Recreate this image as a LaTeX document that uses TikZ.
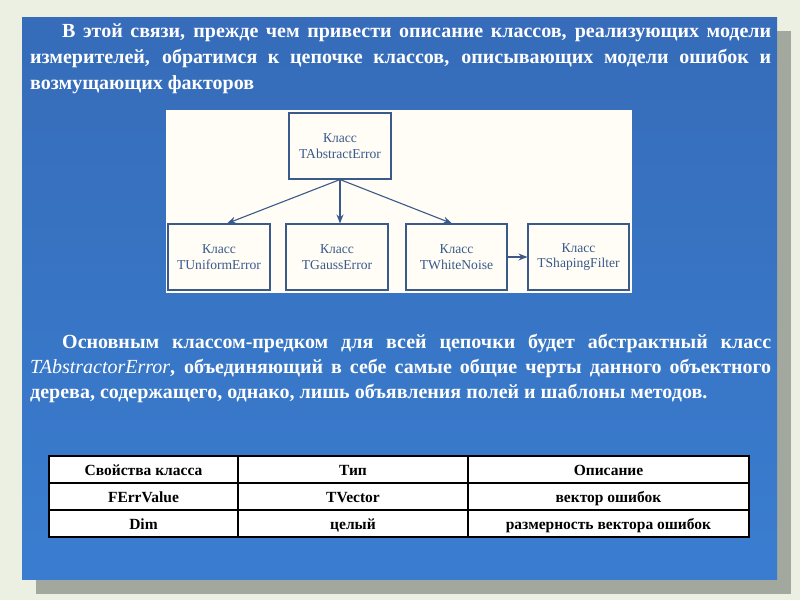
\documentclass[tikz,border=0pt]{standalone}
\usepackage{fontspec}
\setmainfont{Liberation Serif}
\usetikzlibrary{arrows.meta}
\definecolor{bgc}{RGB}{236,240,226}
\definecolor{shd}{RGB}{163,168,158}
\definecolor{btop}{RGB}{54,108,185}
\definecolor{bmid}{RGB}{47,96,160}
\definecolor{bbot}{RGB}{58,125,208}
\definecolor{dcol}{RGB}{58,90,140}
\definecolor{wbox}{RGB}{255,253,245}
\tikzset{
  para/.style={text=white, font=\fontsize{20}{24}\selectfont\bfseries, inner sep=0pt, anchor=base west},
  clsbox/.style={draw=dcol, line width=1.1pt, minimum width=102pt, minimum height=66pt, inner sep=0pt,
     align=center, text=dcol, font=\fontsize{13.6}{15.5}\selectfont},
  arr/.style={draw=dcol, line width=1.1pt, -{Stealth[length=9pt,width=7pt]}},
  cell/.style={text=black, font=\fontsize{15.5}{18}\selectfont\bfseries, inner sep=0pt, anchor=base},
  tline/.style={draw=black, line width=1.2pt}
}
\begin{document}
\begin{tikzpicture}[x=1pt,y=-1pt]
\useasboundingbox (0,0) rectangle (800,600);
\fill[bgc] (0,0) rectangle (800,600);
\fill[shd] (36,31) rectangle (791,594);
\shade[top color=btop, middle color=bmid, bottom color=bbot] (22,17) rectangle (777,579);

% paragraph 1
\node[para] (a1) at (62,37) {\makebox[709pt][s]{В этой связи, прежде чем привести описание классов, реализующих модели}};
\node[para] (a2) at (30,63) {\makebox[741pt][s]{измерителей, обратимся к цепочке классов, описывающих модели ошибок и}};
\node[para] (a3) at (30,89) {возмущающих факторов};

% diagram
\fill[wbox] (166,110) rectangle (632,293);
\node[clsbox] (abs) at (340,146) {Класс\\TAbstractError};
\node[clsbox] (uni) at (219,257) {Класс\\TUniformError};
\node[clsbox] (gau) at (337,257) {Класс\\TGaussError};
\node[clsbox, minimum width=101pt] (wn) at (456.5,257) {Класс\\TWhiteNoise};
\node[clsbox, minimum width=101pt] (sf) at (578.5,257) {Класс\\TShapingFilter};
\draw[arr] (abs.south) -- ([xshift=8pt]uni.north);
\draw[arr] (abs.south) -- ([xshift=3pt]gau.north);
\draw[arr] (abs.south) -- ([xshift=-4.5pt]wn.north);
\draw[arr] (wn.east) -- (sf.west);

% paragraph 2
\node[para] (b1) at (62,348) {\makebox[709pt][s]{Основным классом-предком для всей цепочки будет абстрактный класс}};
\node[para] (b2) at (30,373) {\makebox[741pt][s]{{\mdseries\itshape TAbstractorError}, объединяющий в себе самые общие черты данного объектного}};
\node[para] (b3) at (30,398) {дерева, содержащего, однако, лишь объявления полей и шаблоны методов.};

% table
\fill[white] (49,456) rectangle (749,537);
\draw[tline] (49,456) rectangle (749,537);
\draw[tline] (49,483) -- (749,483);
\draw[tline] (49,510) -- (749,510);
\draw[tline] (238,456) -- (238,537);
\draw[tline] (468,456) -- (468,537);
\node[cell] (t11) at (143.5,475) {Свойства класса};
\node[cell] (t12) at (353,475) {Тип};
\node[cell] (t13) at (608.5,475) {Описание};
\node[cell] (t21) at (143.5,502) {FErrValue};
\node[cell] (t22) at (353,502) {TVector};
\node[cell] (t23) at (608.5,502) {вектор ошибок};
\node[cell] (t31) at (143.5,529) {Dim};
\node[cell] (t32) at (353,529) {целый};
\node[cell] (t33) at (608.5,529) {размерность вектора ошибок};
\end{tikzpicture}
\end{document}
